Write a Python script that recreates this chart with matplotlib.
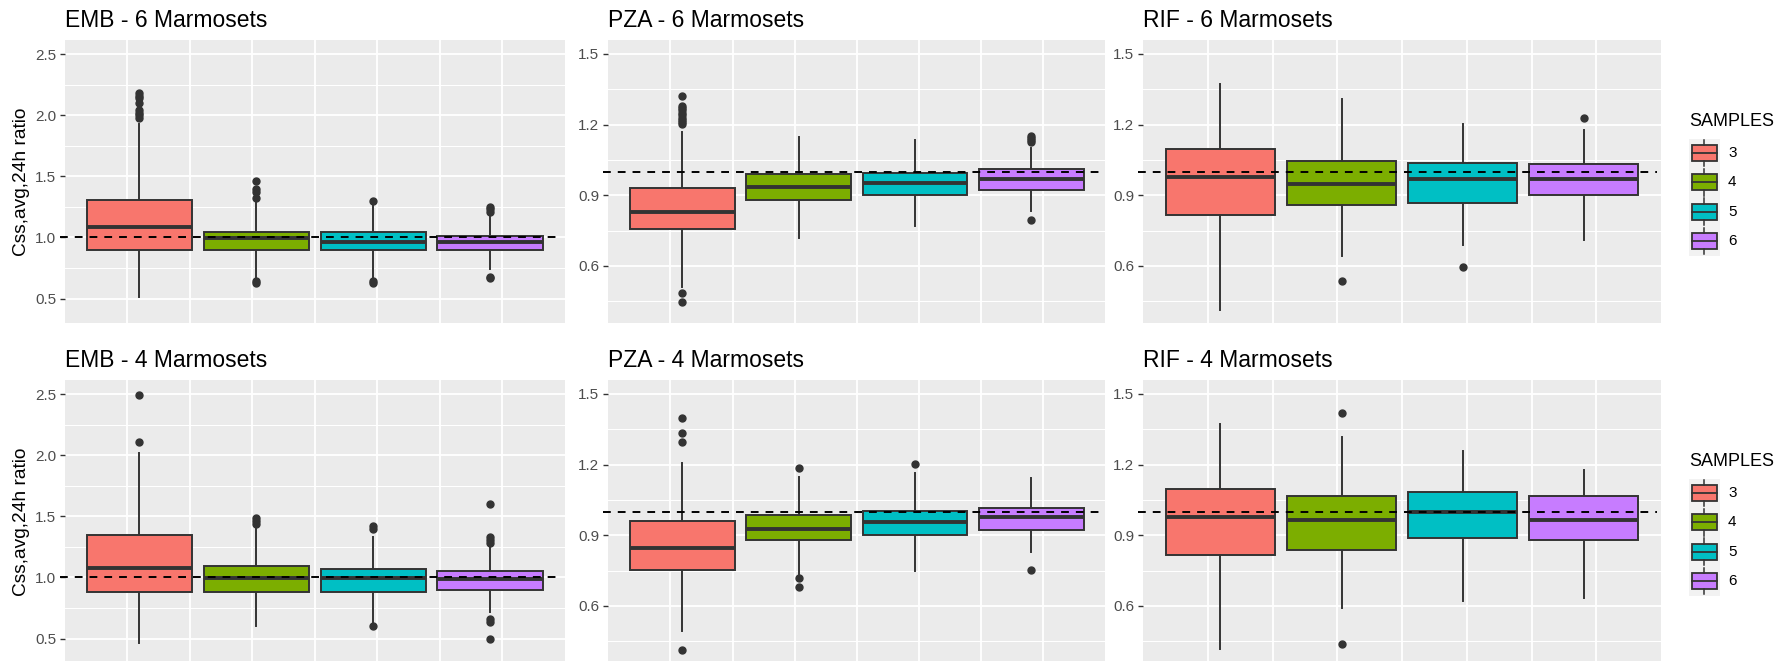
import matplotlib
matplotlib.use("Agg")
import matplotlib.pyplot as plt
from matplotlib.patches import Rectangle
import numpy as np

plt.rcParams['font.family'] = ['Liberation Sans', 'DejaVu Sans']

W, H = 1783, 661

samples = ["3", "4", "5", "6"]
fills = ["#F8766D", "#7CAE00", "#00BFC4", "#C77CFF"]

# per SAMPLES group: [lower whisker, Q1, median, Q3, upper whisker]
emb6_box = [[0.51, 0.894, 1.085, 1.308, 1.93],
            [0.67, 0.894, 0.995, 1.044, 1.29],
            [0.67, 0.894, 0.962, 1.044, 1.28],
            [0.74, 0.894, 0.962, 1.014, 1.19]]
emb6_out = [[2.18, 2.16, 2.14, 2.10, 2.04, 2.02, 2.00, 1.98],
            [1.465, 1.395, 1.37, 1.32, 0.645, 0.63],
            [1.30, 0.645, 0.63],
            [1.245, 1.232, 1.21, 0.68, 0.67]]

pza6_box = [[0.51, 0.756, 0.828, 0.930, 1.168],
            [0.719, 0.879, 0.934, 0.989, 1.149],
            [0.769, 0.900, 0.954, 0.995, 1.134],
            [0.835, 0.921, 0.971, 1.011, 1.10]]
pza6_out = [[1.322, 1.279, 1.27, 1.26, 1.25, 1.24, 1.23, 1.22, 1.21, 1.203, 0.487, 0.449],
            [],
            [],
            [1.152, 1.145, 1.135, 1.128, 0.795]]

rif6_box = [[0.413, 0.815, 0.979, 1.095, 1.371],
            [0.644, 0.858, 0.950, 1.045, 1.308],
            [0.689, 0.866, 0.971, 1.037, 1.204],
            [0.711, 0.900, 0.969, 1.032, 1.177]]
rif6_out = [[], [0.537], [0.595], [1.228]]

emb4_box = [[0.464, 0.883, 1.079, 1.347, 2.016],
            [0.601, 0.883, 0.997, 1.093, 1.393],
            [0.62, 0.883, 0.997, 1.066, 1.333],
            [0.719, 0.900, 0.984, 1.055, 1.26]]
emb4_out = [[2.495, 2.104],
            [1.486, 1.46, 1.434],
            [1.42, 1.40, 0.60],
            [1.601, 1.333, 1.31, 1.279, 0.656, 0.637, 0.50]]

pza4_box = [[0.495, 0.752, 0.848, 0.960, 1.207],
            [0.735, 0.880, 0.927, 0.988, 1.149],
            [0.750, 0.901, 0.955, 1.002, 1.165],
            [0.829, 0.924, 0.978, 1.016, 1.142]]
pza4_out = [[1.397, 1.332, 1.295, 0.415],
            [1.187, 0.718, 0.682],
            [1.201],
            [0.754]]

rif4_box = [[0.418, 0.815, 0.978, 1.097, 1.373],
            [0.592, 0.838, 0.964, 1.068, 1.316],
            [0.620, 0.887, 0.998, 1.083, 1.258],
            [0.634, 0.880, 0.964, 1.068, 1.179]]
rif4_out = [[], [1.418, 0.437], [], []]

emb_ticks = [0.5, 1.0, 1.5, 2.0, 2.5]
emb_minor = [0.75, 1.25, 1.75, 2.25]
emb_lim = (0.30, 2.615)
pr_ticks = [0.6, 0.9, 1.2, 1.5]
pr_minor = [0.45, 0.75, 1.05, 1.35]
pr_lim = (0.358, 1.559)

ylab = "Css,avg,24h ratio"
dark = "#333333"

fig = plt.figure(figsize=(W / 100, H / 100), dpi=100)


def px_axes(x0, x1, y0, y1):
    return fig.add_axes([x0 / W, 1 - y1 / H, (x1 - x0) / W, (y1 - y0) / H])


def draw_panel(ax, title, box, out, ylim, major, minor, label=None):
    stats = [dict(whislo=b[0], q1=b[1], med=b[2], q3=b[3], whishi=b[4],
                  fliers=o, label=s) for b, o, s in zip(box, out, samples)]
    bp = ax.bxp(stats, positions=np.arange(4), widths=0.9, patch_artist=True,
                showcaps=False,
                boxprops=dict(edgecolor=dark, linewidth=1.4),
                medianprops=dict(color=dark, linewidth=2.8, solid_capstyle='butt'),
                whiskerprops=dict(color=dark, linewidth=1.4),
                flierprops=dict(marker='o', markerfacecolor=dark,
                                markeredgecolor=dark, markersize=5))
    for patch, c in zip(bp['boxes'], fills):
        patch.set_facecolor(c)
        patch.set_zorder(3)
    for m in bp['medians']:
        m.set_zorder(4)
    ax.axhline(1.0, xmin=-0.01, xmax=0.992, color='black', lw=1.4,
               ls=(0, (4, 3.6)), zorder=5, clip_on=False)

    xlo, xhi = -0.637, 3.637
    ax.set_xlim(xlo, xhi)
    ax.set_ylim(*ylim)
    ax.set_facecolor('#EBEBEB')
    ax.set_xticks(np.linspace(xlo, xhi, 9)[1:-1])
    ax.set_yticks(major)
    ax.set_yticks(minor, minor=True)
    ax.set_yticklabels([f"{v:.1f}" for v in major])
    ax.grid(which='major', color='white', lw=1.3)
    ax.grid(which='minor', axis='y', color='white', lw=0.75)
    ax.set_axisbelow(True)
    ax.tick_params(axis='x', length=0, labelbottom=False)
    ax.tick_params(axis='y', which='major', length=3.6, width=1.0, color=dark,
                   labelcolor='#4D4D4D', labelsize=11, pad=2.8)
    ax.tick_params(axis='y', which='minor', length=0)
    for sp in ax.spines.values():
        sp.set_visible(False)
    ax.set_title(title, loc='left', fontsize=16.5, pad=9.6)
    if label:
        ax.set_ylabel(label, fontsize=13.75, labelpad=3.5)


def draw_legend(title_y):
    lx = 1689
    fig.text(lx / W, 1 - title_y / H, "SAMPLES", fontsize=13,
             va='center', ha='left')
    lax = px_axes(lx, lx + 31, title_y + 16.5, title_y + 133.5)
    lax.set_xlim(0, 1)
    lax.set_ylim(0, 4)
    lax.axis('off')
    lax.add_patch(Rectangle((0, 0), 1, 4, facecolor='#F2F2F2', edgecolor='none'))
    for i, (s, c) in enumerate(zip(samples, fills)):
        yc = 3.5 - i
        lax.add_patch(Rectangle((0.11, yc - 0.27), 0.78, 0.54, facecolor=c,
                                edgecolor=dark, lw=1.3))
        lax.plot([0.11, 0.89], [yc, yc], color=dark, lw=1.3)
        lax.plot([0.5, 0.5], [yc + 0.27, yc + 0.45], color=dark, lw=1.1)
        lax.plot([0.5, 0.5], [yc - 0.27, yc - 0.45], color=dark, lw=1.1)
        fig.text((lx + 39) / W, 1 - (title_y + 16.5 + 117 * (i + 0.5) / 4) / H, s,
                 fontsize=11, va='center', ha='left')


cols = [(65, 564.5), (608.3, 1105.5), (1143.3, 1661)]
rows = [(40, 323), (380, 663)]

draw_panel(px_axes(*cols[0], *rows[0]), "EMB - 6 Marmosets", emb6_box, emb6_out,
           emb_lim, emb_ticks, emb_minor, ylab)
draw_panel(px_axes(*cols[1], *rows[0]), "PZA - 6 Marmosets", pza6_box, pza6_out,
           pr_lim, pr_ticks, pr_minor)
draw_panel(px_axes(*cols[2], *rows[0]), "RIF - 6 Marmosets", rif6_box, rif6_out,
           pr_lim, pr_ticks, pr_minor)
draw_panel(px_axes(*cols[0], *rows[1]), "EMB - 4 Marmosets", emb4_box, emb4_out,
           emb_lim, emb_ticks, emb_minor, ylab)
draw_panel(px_axes(*cols[1], *rows[1]), "PZA - 4 Marmosets", pza4_box, pza4_out,
           pr_lim, pr_ticks, pr_minor)
draw_panel(px_axes(*cols[2], *rows[1]), "RIF - 4 Marmosets", rif4_box, rif4_out,
           pr_lim, pr_ticks, pr_minor)

draw_legend(122)
draw_legend(462)

fig.savefig("out.png", dpi=100)
